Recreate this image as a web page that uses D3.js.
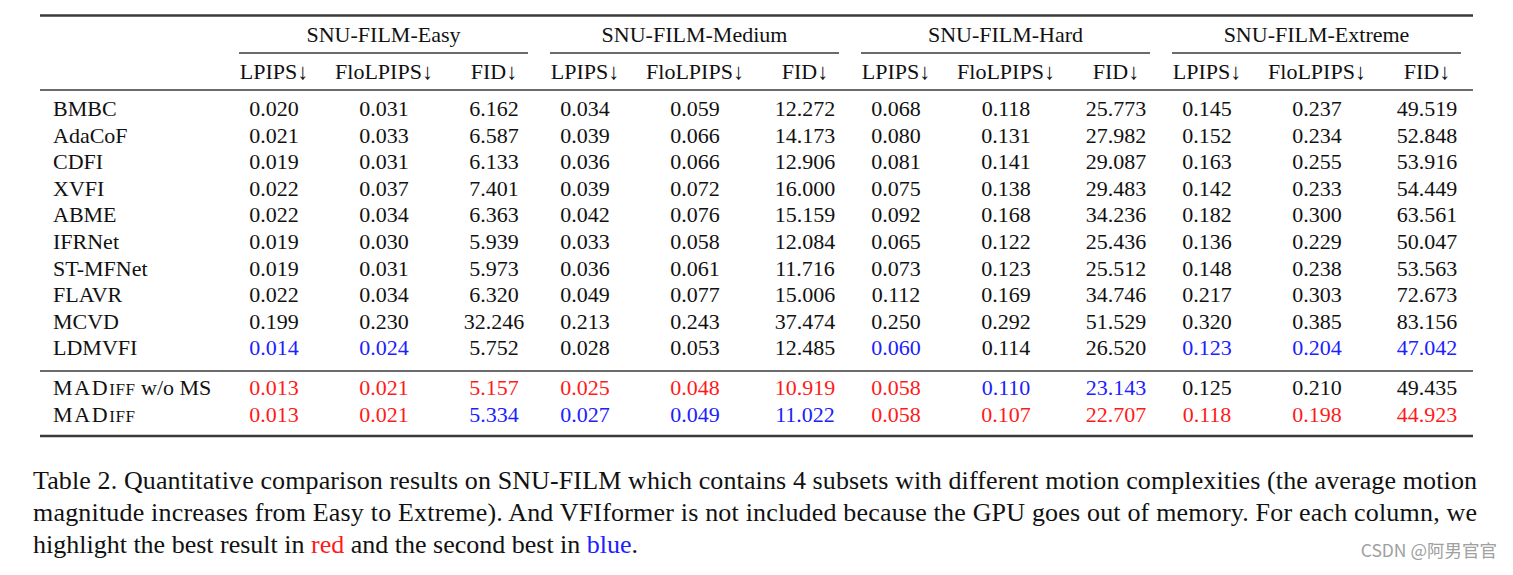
<!DOCTYPE html>
<html>
<head>
<meta charset="utf-8">
<script src="https://cdn.jsdelivr.net/npm/d3@7"></script>
<style>
  html, body { margin: 0; padding: 0; background: #fff; }
  svg { display: block; }
</style>
</head>
<body>
<svg id="chart" width="1513" height="575"></svg>
<script>
// ---------------- data ----------------
const groups = ["SNU-FILM-Easy", "SNU-FILM-Medium", "SNU-FILM-Hard", "SNU-FILM-Extreme"];
const metrics = ["LPIPS↓", "FloLPIPS↓", "FID↓"];
const methods = ["BMBC", "AdaCoF", "CDFI", "XVFI", "ABME", "IFRNet", "ST-MFNet", "FLAVR", "MCVD", "LDMVFI"];
const oursMethods = ["MADIFF w/o MS", "MADIFF"];

const values = [
  ["0.020","0.031","6.162","0.034","0.059","12.272","0.068","0.118","25.773","0.145","0.237","49.519"],
  ["0.021","0.033","6.587","0.039","0.066","14.173","0.080","0.131","27.982","0.152","0.234","52.848"],
  ["0.019","0.031","6.133","0.036","0.066","12.906","0.081","0.141","29.087","0.163","0.255","53.916"],
  ["0.022","0.037","7.401","0.039","0.072","16.000","0.075","0.138","29.483","0.142","0.233","54.449"],
  ["0.022","0.034","6.363","0.042","0.076","15.159","0.092","0.168","34.236","0.182","0.300","63.561"],
  ["0.019","0.030","5.939","0.033","0.058","12.084","0.065","0.122","25.436","0.136","0.229","50.047"],
  ["0.019","0.031","5.973","0.036","0.061","11.716","0.073","0.123","25.512","0.148","0.238","53.563"],
  ["0.022","0.034","6.320","0.049","0.077","15.006","0.112","0.169","34.746","0.217","0.303","72.673"],
  ["0.199","0.230","32.246","0.213","0.243","37.474","0.250","0.292","51.529","0.320","0.385","83.156"],
  ["0.014","0.024","5.752","0.028","0.053","12.485","0.060","0.114","26.520","0.123","0.204","47.042"]
];
const oursValues = [
  ["0.013","0.021","5.157","0.025","0.048","10.919","0.058","0.110","23.143","0.125","0.210","49.435"],
  ["0.013","0.021","5.334","0.027","0.049","11.022","0.058","0.107","22.707","0.118","0.198","44.923"]
];
// highlight rank: "r" best, "b" second best, "k" none
const highlights = [
  "kkkkkkkkkkkk","kkkkkkkkkkkk","kkkkkkkkkkkk","kkkkkkkkkkkk","kkkkkkkkkkkk",
  "kkkkkkkkkkkk","kkkkkkkkkkkk","kkkkkkkkkkkk","kkkkkkkkkkkk","bbkkkkbkkbbb"
];
const oursHighlights = ["rrrrrrrbbkkk", "rrbbbbrrrrrr"];

const captionLines = [
  "Table 2. Quantitative comparison results on SNU-FILM which contains 4 subsets with different motion complexities (the average motion",
  "magnitude increases from Easy to Extreme). And VFIformer is not included because the GPU goes out of memory. For each column, we"
];
const captionLast = [
  {t: "highlight the best result in ", c: "k"},
  {t: "red", c: "r"},
  {t: " and the second best in ", c: "k"},
  {t: "blue", c: "b"},
  {t: ".", c: "k"}
];
const watermark = "CSDN @阿男官官";

// ---------------- drawing ----------------
const svg = d3.select("#chart");
const SERIF = "'Liberation Serif', 'Times New Roman', serif";
const FS = 22;
const CAP_FS = 26;
const ink = "#111";
const ruleColor = "#3a3a3a";
const colorOf = {k: ink, r: "#ff1a1a", b: "#2020ff"};

const tableLeft = 40, tableRight = 1473;
const groupX = d3.scaleBand().domain(groups).range([239, 1461]).paddingInner(22 / 311);
const metricX = d3.scalePoint().domain(metrics).range([35, 255]);
const colX = (gi, mi) => groupX(groups[gi]) + metricX(metrics[mi]);

const rowY = d3.scaleLinear().domain([0, 1]).range([116, 142.6]);
const oursY = d3.scaleLinear().domain([0, 1]).range([395, 422]);

function hline(x1, x2, y, w) {
  svg.append("line").attr("x1", x1).attr("x2", x2).attr("y1", y).attr("y2", y)
    .attr("stroke", ruleColor).attr("stroke-width", w);
}

// rules
hline(tableLeft, tableRight, 15.5, 2.4);
groups.forEach(g => hline(groupX(g), groupX(g) + groupX.bandwidth(), 53, 1.6));
hline(tableLeft, tableRight, 90, 1.6);
hline(tableLeft, tableRight, 371, 1.6);
hline(tableLeft, tableRight, 436, 2.4);

// group headers
svg.append("g").selectAll("text").data(groups).join("text")
  .attr("x", g => groupX(g) + groupX.bandwidth() / 2)
  .attr("y", 42)
  .attr("text-anchor", "middle")
  .attr("font-family", SERIF).attr("font-size", FS).attr("fill", ink)
  .text(g => g);

// metric headers
const headerCells = [];
groups.forEach((g, gi) => metrics.forEach((m, mi) => headerCells.push({gi, mi, m})));
svg.append("g").selectAll("text").data(headerCells).join("text")
  .attr("x", d => colX(d.gi, d.mi))
  .attr("y", 79)
  .attr("text-anchor", "middle")
  .attr("font-family", SERIF).attr("font-size", FS).attr("fill", ink)
  .text(d => d.m);

// method names
svg.append("g").selectAll("text").data(methods).join("text")
  .attr("x", 53).attr("y", (d, i) => rowY(i))
  .attr("font-family", SERIF).attr("font-size", FS).attr("fill", ink)
  .text(d => d);

// small-caps style names for ours
oursMethods.forEach((name, i) => {
  const t = svg.append("text").attr("x", 53).attr("y", oursY(i))
    .attr("font-family", SERIF).attr("font-size", FS).attr("fill", ink);
  const rest = name.slice("MADIFF".length);
  t.append("tspan").attr("letter-spacing", 1.6).text("MAD");
  t.append("tspan").attr("font-size", 17).attr("letter-spacing", 0.6).text("IFF");
  if (rest) t.append("tspan").text(rest);
});

// numeric cells
function cells(vals, hl, yScale) {
  const out = [];
  vals.forEach((row, ri) => row.forEach((v, ci) => {
    out.push({v, y: yScale(ri), gi: Math.floor(ci / 3), mi: ci % 3, c: hl[ri][ci]});
  }));
  return out;
}
svg.append("g").selectAll("text")
  .data(cells(values, highlights, rowY).concat(cells(oursValues, oursHighlights, oursY)))
  .join("text")
  .attr("x", d => colX(d.gi, d.mi))
  .attr("y", d => d.y)
  .attr("text-anchor", "middle")
  .attr("font-family", SERIF).attr("font-size", FS)
  .attr("fill", d => colorOf[d.c])
  .text(d => d.v);

// caption
const capY = d3.scaleLinear().domain([0, 1]).range([489, 521]);
svg.append("g").selectAll("text").data(captionLines).join("text")
  .attr("x", 33).attr("y", (d, i) => capY(i))
  .attr("font-family", SERIF).attr("font-size", CAP_FS).attr("fill", ink)
  .attr("textLength", 1444).attr("lengthAdjust", "spacing")
  .text(d => d);
const last = svg.append("text").attr("x", 33).attr("y", capY(2))
  .attr("font-family", SERIF).attr("font-size", CAP_FS).attr("fill", ink);
captionLast.forEach(p => last.append("tspan").attr("fill", colorOf[p.c]).text(p.t));

// watermark
svg.append("text").attr("x", 1497).attr("y", 557).attr("text-anchor", "end")
  .attr("font-family", "'Noto Sans CJK SC', 'Noto Sans', sans-serif")
  .attr("font-size", 17.5).attr("fill", "#a0a0a0")
  .text(watermark);
</script>
</body>
</html>
